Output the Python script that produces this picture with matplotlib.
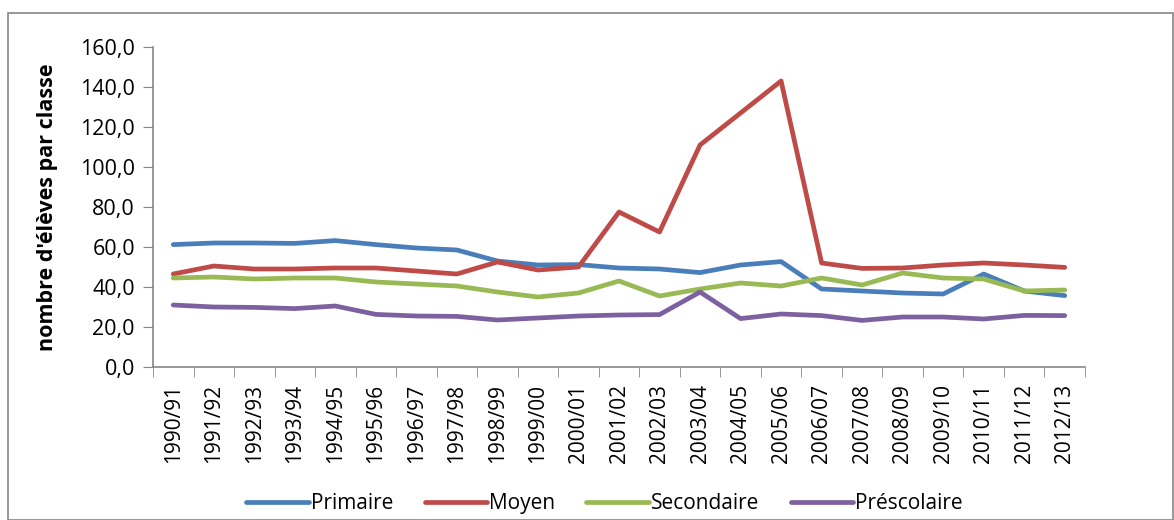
import numpy as np
import matplotlib.pyplot as plt
from matplotlib.patches import Rectangle

years = ["1990/91", "1991/92", "1992/93", "1993/94", "1994/95", "1995/96", "1996/97",
         "1997/98", "1998/99", "1999/00", "2000/01", "2001/02", "2002/03", "2003/04",
         "2004/05", "2005/06", "2006/07", "2007/08", "2008/09", "2009/10", "2010/11",
         "2011/12", "2012/13"]
primaire = [61.2, 62.0, 62.0, 61.8, 63.2, 61.2, 59.5, 58.5, 53.0, 51.0, 51.2, 49.5,
            49.0, 47.2, 51.0, 52.7, 39.0, 38.0, 37.0, 36.5, 46.5, 38.0, 35.7]
moyen = [46.5, 50.5, 49.0, 49.0, 49.5, 49.5, 48.0, 46.5, 52.5, 48.5, 50.0, 77.5,
         67.5, 111.0, 127.0, 143.0, 52.0, 49.3, 49.5, 51.0, 52.0, 51.0, 49.8]
secondaire = [44.5, 45.0, 44.0, 44.5, 44.5, 42.5, 41.5, 40.5, 37.5, 35.0, 37.0, 43.0,
              35.5, 39.0, 42.0, 40.5, 44.5, 41.0, 47.0, 44.5, 44.0, 38.0, 38.5]
prescolaire = [31.0, 30.0, 29.8, 29.2, 30.5, 26.3, 25.5, 25.3, 23.5, 24.5, 25.5, 26.0,
               26.2, 37.5, 24.2, 26.5, 25.7, 23.3, 25.0, 25.0, 24.0, 25.8, 25.7]

plt.rcParams['font.family'] = ['Open Sans', 'DejaVu Sans']

fig = plt.figure(figsize=(11.74, 5.2), dpi=100)
ax = fig.add_axes([153/1174, 1 - 367/520, (1085 - 153)/1174, (367 - 47)/520])

x = np.arange(len(years))
lw = 3.4
ax.plot(x, primaire, color='#4A7EBB', lw=lw, label='Primaire', solid_capstyle='round')
ax.plot(x, moyen, color='#BE4B48', lw=lw, label='Moyen', solid_capstyle='round')
ax.plot(x, secondaire, color='#98B954', lw=lw, label='Secondaire', solid_capstyle='round')
ax.plot(x, prescolaire, color='#7D60A0', lw=lw, label='Préscolaire', solid_capstyle='round')

ax.set_xlim(-0.5, len(years) - 0.5)
ax.set_ylim(0, 160)
ax.set_yticks(np.arange(0, 161, 20))
ax.set_yticklabels([f"{v},0" for v in range(0, 161, 20)], fontsize=15.5)
ax.set_xticks(x)
ax.set_xticklabels(years, rotation=90, fontsize=15)
ax.set_xticks(np.arange(-0.5, len(years), 1), minor=True)
ax.tick_params(axis='x', which='major', length=0, pad=12)
ax.tick_params(axis='x', which='minor', length=7, color='#868686')
ax.tick_params(axis='y', length=7, color='#868686', pad=6)

for s in ['top', 'right']:
    ax.spines[s].set_visible(False)
for s in ['left', 'bottom']:
    ax.spines[s].set_color('#868686')
    ax.spines[s].set_linewidth(1.2)

ax.set_ylabel("nombre d'élèves par classe", fontsize=15.5, fontweight='bold', labelpad=16)

fig.legend(loc='lower center', bbox_to_anchor=(0.515, -0.025), ncol=4, frameon=False,
           fontsize=15, handlelength=3.0, handletextpad=0.1, columnspacing=1.5)

fig.patches.append(Rectangle((8/1174, 0), 1 - 8/1174 - 0.001, 1 - 13/520, transform=fig.transFigure,
                             fill=False, edgecolor='#868686', lw=1.2))

fig.savefig('out.png', dpi=100)
